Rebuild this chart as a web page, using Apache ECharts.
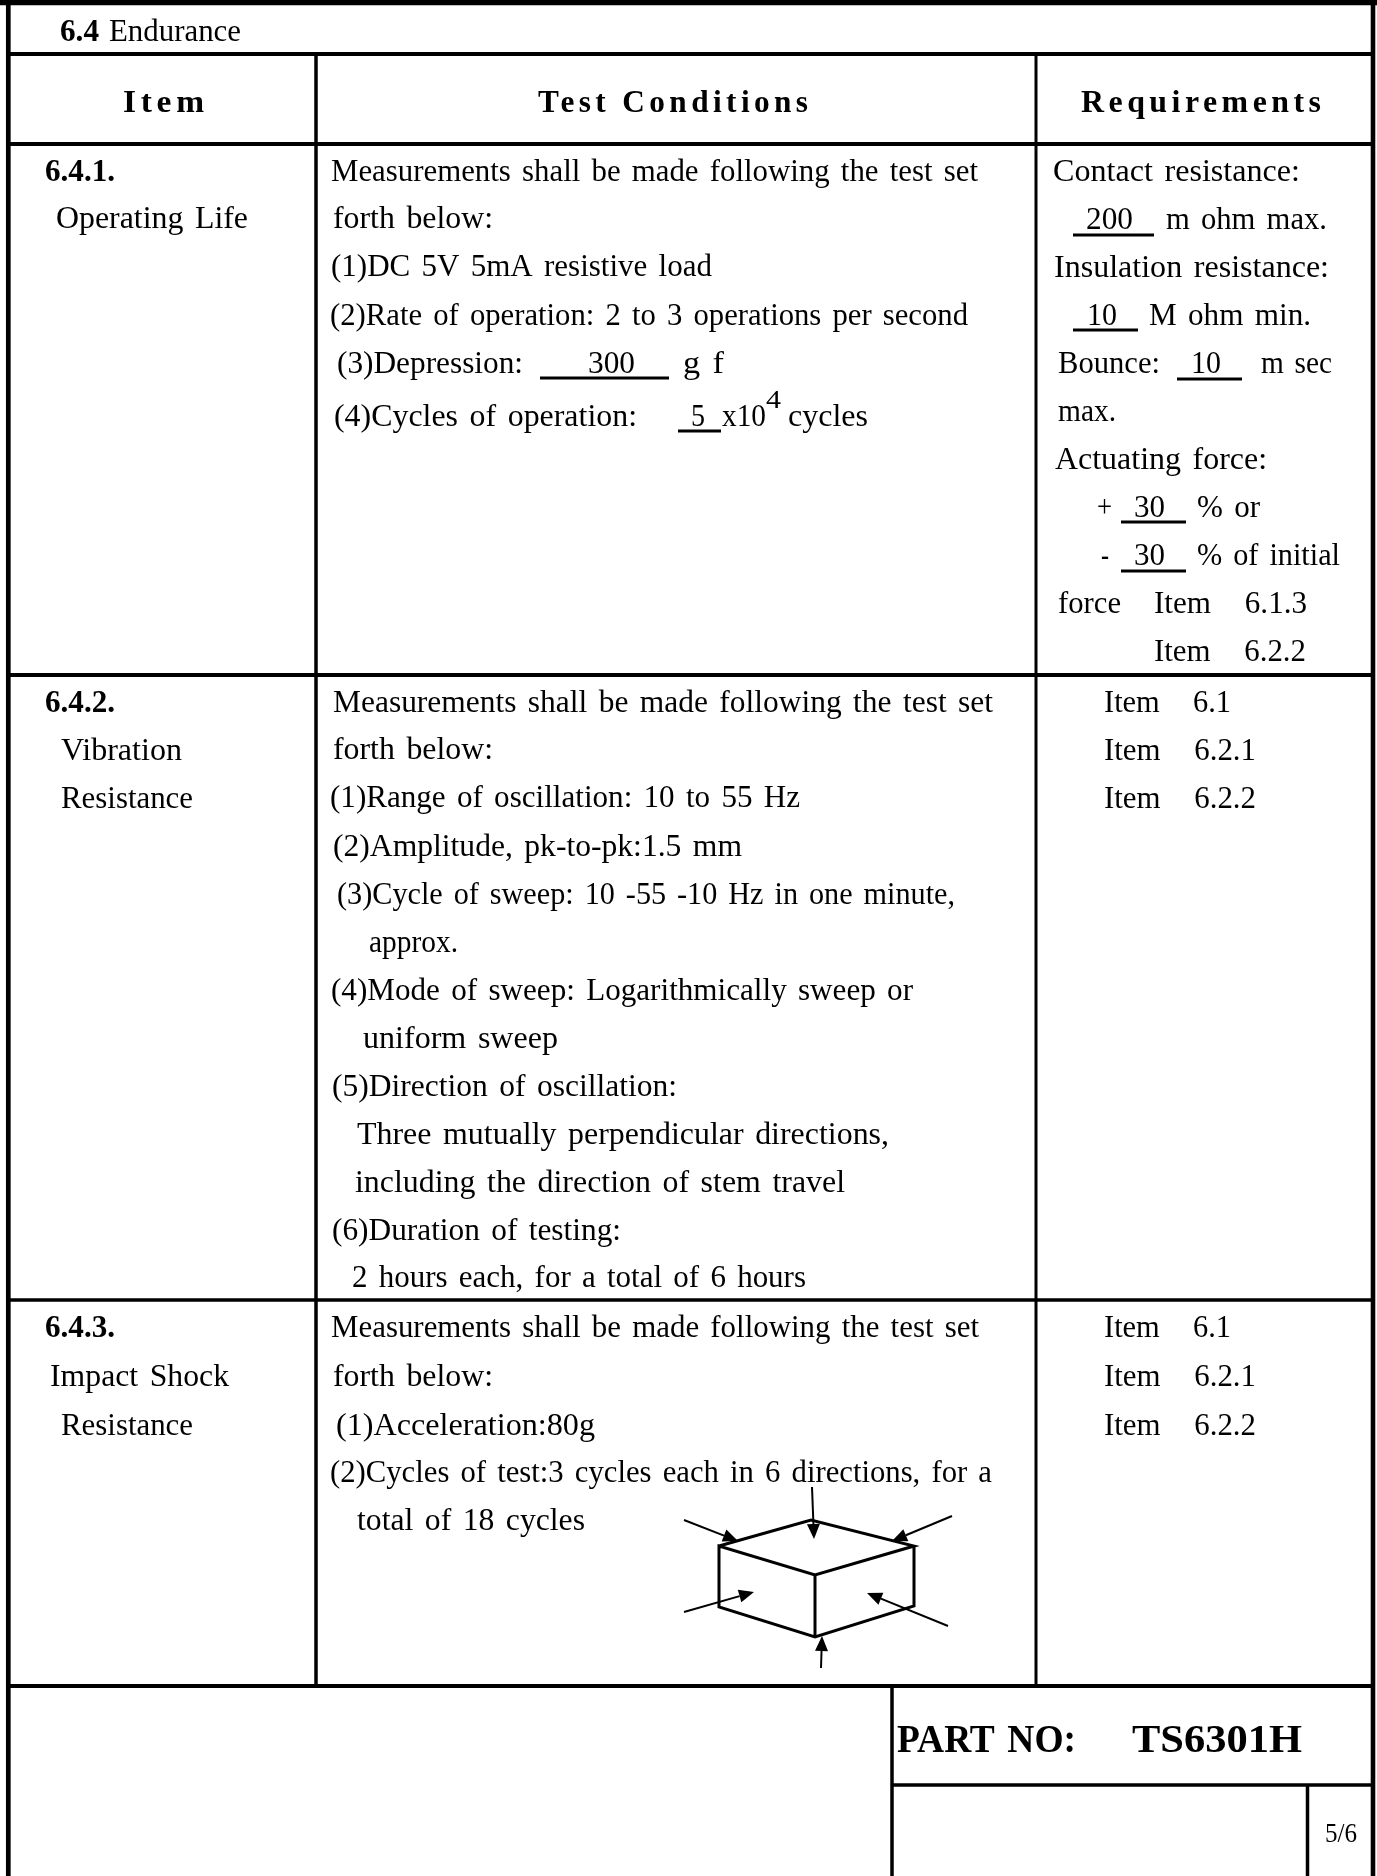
<!DOCTYPE html>
<html>
<head>
<meta charset="utf-8">
<style>html,body{margin:0;padding:0;background:#fff}#main{width:1377px;height:1876px}</style>
<script src="https://cdn.jsdelivr.net/npm/echarts@6/dist/echarts.min.js"></script>
</head>
<body>
<div id="main"></div>
<script>
// text of the sheet
const titleTexts = ['6.4', 'Endurance']
const headerTexts = ['Item', 'Test Conditions', 'Requirements']
const itemTexts = ['6.4.1.', 'Operating Life', '6.4.2.', 'Vibration', 'Resistance', '6.4.3.', 'Impact Shock', 'Resistance']
const conditionTexts = [
  'Measurements shall be made following the test set', 'forth below:', '(1)DC 5V 5mA resistive load',
  '(2)Rate of operation: 2 to 3 operations per second', '(3)Depression:', '300', 'g f',
  '(4)Cycles of operation:', '5', 'x10', '4', 'cycles',
  'Measurements shall be made following the test set', 'forth below:', '(1)Range of oscillation: 10 to 55 Hz',
  '(2)Amplitude, pk-to-pk:1.5 mm', '(3)Cycle of sweep: 10 -55 -10 Hz in one minute,', 'approx.',
  '(4)Mode of sweep: Logarithmically sweep or', 'uniform sweep', '(5)Direction of oscillation:',
  'Three mutually perpendicular directions,', 'including the direction of stem travel',
  '(6)Duration of testing:', '2 hours each, for a total of 6 hours',
  'Measurements shall be made following the test set', 'forth below:', '(1)Acceleration:80g',
  '(2)Cycles of test:3 cycles each in 6 directions, for a', 'total of 18 cycles'
]
const requirementTexts = [
  'Contact resistance:', '200', 'm ohm max.', 'Insulation resistance:', '10', 'M ohm min.',
  'Bounce:', '10', 'm sec', 'max.', 'Actuating force:', '+', '30', '% or', '-', '30', '% of initial',
  'force', 'Item   6.1.3', 'Item   6.2.2',
  'Item   6.1', 'Item   6.2.1', 'Item   6.2.2', 'Item   6.1', 'Item   6.2.1', 'Item   6.2.2'
]
const partTexts = ['PART NO:', 'TS6301H']
const pageText = '5/6'

// layout, [left, right, baseline] for each string above
const titleBoxes = [[60, 99, 41], [109, 241, 41]]
const headerBoxes = [[123, 204, 112], [538, 808, 112], [1081, 1321, 112]]
const itemBoxes = [[45, 115, 181], [56, 248, 228], [45, 115, 712], [61, 182, 760], [61, 193, 808], [45, 115, 1337], [50, 229, 1386], [61, 193, 1435]]
const conditionBoxes = [
  [331, 978, 181], [333, 493, 228], [331, 712, 276], [330, 968, 325], [337, 523, 373], [588, 635, 373], [683, 724, 373],
  [334, 637, 426], [691, 705, 426], [722, 766, 426], [766, 781, 408], [788, 868, 426],
  [333, 993, 712], [333, 493, 759], [330, 800, 807], [333, 742, 856], [337, 955, 904], [369, 458, 952],
  [331, 913, 1000], [363, 558, 1048], [332, 677, 1096], [357, 889, 1144], [355, 845, 1192], [332, 621, 1240], [352, 806, 1287],
  [331, 979, 1337], [333, 493, 1386], [336, 595, 1435], [330, 992, 1482], [357, 585, 1530]
]
const requirementBoxes = [
  [1053, 1300, 181], [1086, 1133, 229], [1166, 1327, 229], [1054, 1329, 277], [1087, 1117, 325], [1149, 1311, 325],
  [1058, 1160, 373], [1191, 1221, 373], [1261, 1332, 373], [1058, 1116, 421], [1055, 1267, 469],
  [1097, 1112, 517], [1134, 1165, 517], [1197, 1260, 517], [1101, 1109, 565], [1134, 1165, 565], [1197, 1340, 565],
  [1058, 1121, 613], [1154, 1307, 613], [1154, 1306, 661],
  [1104, 1231, 712], [1104, 1256, 760], [1104, 1256, 808], [1104, 1231, 1337], [1104, 1256, 1386], [1104, 1256, 1435]
]
const partBoxes = [[897, 1076, 1752], [1132, 1302, 1752]]
const pageBox = [1325, 1357, 1842]

// table rules, [x1, y1, x2, y2, width]
const rules = [
  [0, 2.6, 1377, 2.6, 5.3], [8.3, 0, 8.3, 1876, 4.7], [1373, 0, 1373, 1876, 4.6],
  [8, 54, 1374, 54, 4], [8, 144, 1374, 144, 4], [8, 675, 1374, 675, 4], [8, 1300, 1374, 1300, 3.5], [8, 1686, 1374, 1686, 4],
  [316, 54, 316, 1686, 3.5], [1036, 54, 1036, 1686, 3], [892, 1686, 892, 1876, 3.5], [892, 1785, 1374, 1785, 3.5], [1307.5, 1785, 1307.5, 1876, 3.5]
]
const underlines = [
  [540, 669, 378], [678, 721, 431], [1073, 1154, 235], [1073, 1138, 330], [1177, 1242, 379], [1121, 1186, 522], [1121, 1186, 571]
]
const cubeEdges = [
  [[719, 1546], [811, 1520], [914, 1546], [815, 1575], [719, 1546], [719, 1607], [815, 1637], [914, 1606], [914, 1546]],
  [[815, 1575], [815, 1637]]
]
const arrows = [
  [812, 1487, 814, 1539], [684, 1520, 738, 1541], [952, 1516, 892, 1541],
  [684, 1612, 754, 1592], [948, 1626, 867, 1593], [821, 1668, 822, 1636]
]

const FONT = '"Liberation Serif", "Times New Roman", serif'
const BODY = 31
const WORD_GAP = 3.5
const LETTER_GAP = 4.5
const measure = document.createElement('canvas').getContext('2d')

// spacing values here only go into the measuring, the layers below do the drawing
function textEl(text, box, size, bold, isHeader) {
  measure.font = (bold ? 'bold ' : '') + size + 'px ' + FONT
  measure.letterSpacing = (isHeader ? LETTER_GAP : 0) + 'px'
  measure.wordSpacing = (isHeader ? 0 : WORD_GAP) + 'px'
  const natural = measure.measureText(text).width - (isHeader ? LETTER_GAP : 0)
  return {
    type: 'text',
    x: box[0],
    y: box[2] - size * 0.26,
    scaleX: (box[1] - box[0]) / natural,
    zlevel: isHeader ? 1 : 0,
    style: {
      text: text,
      fontFamily: FONT,
      fontSize: size,
      fontWeight: bold ? 'bold' : 'normal',
      fill: '#000',
      textAlign: 'left',
      verticalAlign: 'middle'
    }
  }
}

function lineEl(r, width) {
  return { type: 'line', shape: { x1: r[0], y1: r[1], x2: r[2], y2: r[3] }, style: { stroke: '#000', lineWidth: width } }
}

function arrowEls(a) {
  const len = Math.hypot(a[2] - a[0], a[3] - a[1])
  const ux = (a[2] - a[0]) / len
  const uy = (a[3] - a[1]) / len
  const headLen = 15
  const headHalf = 6.5
  const bx = a[2] - ux * headLen
  const by = a[3] - uy * headLen
  return [
    lineEl([a[0], a[1], bx, by], 2),
    {
      type: 'polygon',
      shape: { points: [[a[2], a[3]], [bx - uy * headHalf, by + ux * headHalf], [bx + uy * headHalf, by - ux * headHalf]] },
      style: { fill: '#000' }
    }
  ]
}

let els = []
rules.forEach(function (r) { els.push(lineEl(r, r[4])) })
underlines.forEach(function (u) { els.push(lineEl([u[0], u[2], u[1], u[2]], 3)) })
cubeEdges.forEach(function (pts) {
  els.push({ type: 'polyline', shape: { points: pts }, style: { stroke: '#000', lineWidth: 3, fill: null } })
})
arrows.forEach(function (a) { els = els.concat(arrowEls(a)) })

titleTexts.forEach(function (t, i) { els.push(textEl(t, titleBoxes[i], BODY, i === 0)) })
headerTexts.forEach(function (t, i) { els.push(textEl(t, headerBoxes[i], 32, true, true)) })
itemTexts.forEach(function (t, i) { els.push(textEl(t, itemBoxes[i], BODY, /^6\.4/.test(t))) })
conditionTexts.forEach(function (t, i) { els.push(textEl(t, conditionBoxes[i], t === '4' ? 26 : BODY)) })
requirementTexts.forEach(function (t, i) { els.push(textEl(t, requirementBoxes[i], BODY)) })
partTexts.forEach(function (t, i) { els.push(textEl(t, partBoxes[i], 41, true)) })
els.push(textEl(pageText, pageBox, 27))

const chart = echarts.init(document.getElementById('main'))
// canvas only has word and letter gaps per context, so headers get their own layer
const painter = chart.getZr().painter
painter.getLayer(0).ctx.wordSpacing = WORD_GAP + 'px'
painter.getLayer(1).ctx.letterSpacing = LETTER_GAP + 'px'
chart.setOption({
  animation: false,
  backgroundColor: '#fff',
  graphic: { elements: els }
})
</script>
</body>
</html>
